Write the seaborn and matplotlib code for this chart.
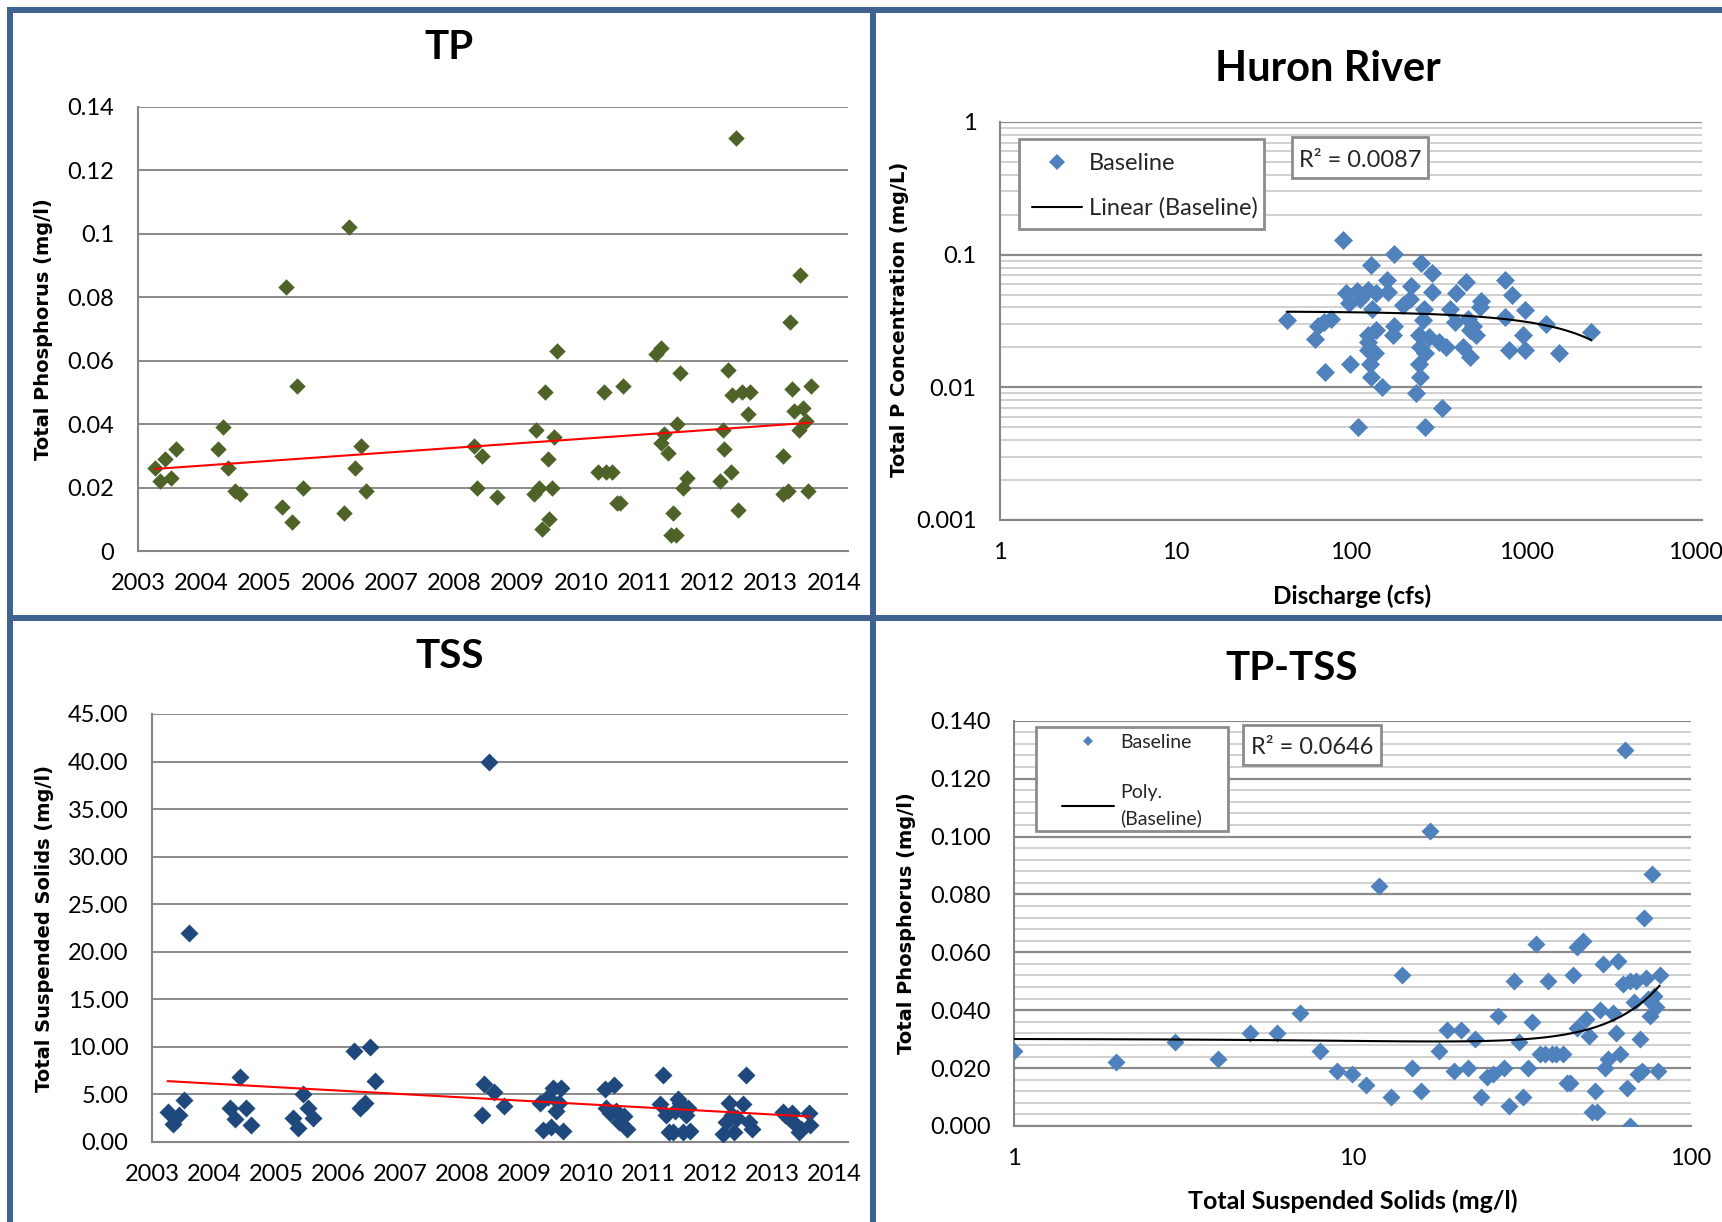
import numpy as np
import pandas as pd
import matplotlib
matplotlib.use("Agg")
import matplotlib.pyplot as plt
import seaborn as sns
from matplotlib.lines import Line2D
from matplotlib.patches import Rectangle
from matplotlib.ticker import FixedLocator, NullLocator, LogLocator, MultipleLocator

# ---------------- data ----------------
# Total phosphorus by sampling date (decimal year)
tp_dates = [2003.27, 2003.34, 2003.43, 2003.52, 2003.60, 2004.26, 2004.35, 2004.43, 2004.53, 2004.61,
            2005.27, 2005.34, 2005.43, 2005.52, 2005.60, 2006.26, 2006.34, 2006.43, 2006.52, 2006.60,
            2008.31, 2008.35, 2008.44, 2008.67, 2009.26, 2009.29, 2009.33, 2009.39, 2009.44, 2009.48,
            2009.50, 2009.55, 2009.58, 2009.63, 2010.27, 2010.36, 2010.40, 2010.49, 2010.57, 2010.62,
            2010.66, 2011.19, 2011.26, 2011.26, 2011.32, 2011.37, 2011.43, 2011.45, 2011.50, 2011.52,
            2011.57, 2011.62, 2011.67, 2012.20, 2012.24, 2012.26, 2012.33, 2012.37, 2012.39, 2012.45,
            2012.49, 2012.55, 2012.64, 2012.68, 2013.20, 2013.20, 2013.27, 2013.31, 2013.34, 2013.37,
            2013.44, 2013.47, 2013.51, 2013.55, 2013.59, 2013.63]
tp_values = [0.026, 0.022, 0.029, 0.023, 0.032, 0.032, 0.039, 0.026, 0.019, 0.018,
             0.014, 0.083, 0.009, 0.052, 0.020, 0.012, 0.102, 0.026, 0.033, 0.019,
             0.033, 0.020, 0.030, 0.017, 0.018, 0.038, 0.020, 0.007, 0.050, 0.029,
             0.010, 0.020, 0.036, 0.063, 0.025, 0.050, 0.025, 0.025, 0.015, 0.015,
             0.052, 0.062, 0.064, 0.034, 0.037, 0.031, 0.005, 0.012, 0.005, 0.040,
             0.056, 0.020, 0.023, 0.022, 0.038, 0.032, 0.057, 0.025, 0.049, 0.130,
             0.013, 0.050, 0.043, 0.050, 0.030, 0.018, 0.019, 0.072, 0.051, 0.044,
             0.038, 0.087, 0.045, 0.041, 0.019, 0.052]

# Total suspended solids by sampling date (decimal year)
tss_dates = [2003.25, 2003.34, 2003.43, 2003.52, 2003.59, 2004.25, 2004.34, 2004.42, 2004.51, 2004.60,
             2005.27, 2005.35, 2005.43, 2005.52, 2005.60, 2006.26, 2006.35, 2006.43, 2006.52, 2006.60,
             2008.32, 2008.35, 2008.43, 2008.51, 2008.67, 2009.26, 2009.31, 2009.39, 2009.44, 2009.47,
             2009.51, 2009.56, 2009.60, 2009.63, 2010.30, 2010.33, 2010.39, 2010.45, 2010.49, 2010.53,
             2010.62, 2010.66, 2011.20, 2011.24, 2011.29, 2011.34, 2011.40, 2011.44, 2011.48, 2011.52,
             2011.56, 2011.61, 2011.65, 2011.67, 2012.21, 2012.26, 2012.30, 2012.35, 2012.38, 2012.44,
             2012.54, 2012.58, 2012.63, 2012.67, 2013.17, 2013.21, 2013.27, 2013.32, 2013.36, 2013.43,
             2013.47, 2013.59, 2013.62]
tss_values = [3.2, 1.9, 2.8, 4.4, 22.0, 3.6, 2.4, 6.8, 3.6, 1.8,
              2.5, 1.5, 5.0, 3.6, 2.5, 9.6, 3.6, 4.1, 10.0, 6.4,
              2.8, 6.1, 40.0, 5.3, 3.8, 4.1, 1.3, 4.7, 1.6, 5.7,
              3.3, 4.1, 5.7, 1.2, 5.6, 3.6, 3.1, 6.0, 3.3, 2.1,
              2.7, 1.4, 4.0, 7.0, 2.8, 1.0, 1.0, 3.3, 4.5, 4.1,
              1.1, 2.8, 3.6, 1.2, 0.8, 2.1, 4.1, 2.8, 1.0, 2.5,
              4.0, 7.0, 2.1, 1.4, 3.2, 2.8, 2.5, 3.0, 2.0, 1.0,
              1.4, 3.0, 1.8]

# Huron River: discharge (cfs) vs total P (mg/L)
discharge_cfs = [90, 175, 130, 252, 291, 161, 454, 759, 94, 108,
                 125, 139, 163, 221, 291, 395, 826, 98, 197, 216,
                 131, 552, 540, 260, 365, 975, 43, 77, 70, 65,
                 750, 1294, 2333, 464, 390, 175, 258, 139, 125, 174,
                 244, 518, 474, 953, 62, 125, 279, 318, 247, 350,
                 435, 137, 263, 794, 975, 474, 1541, 99, 128, 244,
                 71, 130, 247, 151, 236, 330, 109, 264, 125, 112, 496]
huron_tp = [0.129, 0.102, 0.083, 0.087, 0.073, 0.064, 0.062, 0.064, 0.051, 0.053,
            0.054, 0.051, 0.052, 0.058, 0.052, 0.051, 0.050, 0.043, 0.042, 0.046,
            0.039, 0.045, 0.040, 0.039, 0.039, 0.038, 0.032, 0.033, 0.031, 0.029,
            0.034, 0.030, 0.026, 0.033, 0.031, 0.029, 0.032, 0.027, 0.025, 0.025,
            0.025, 0.025, 0.027, 0.025, 0.023, 0.022, 0.024, 0.022, 0.020, 0.020,
            0.020, 0.018, 0.018, 0.019, 0.019, 0.017, 0.018, 0.015, 0.015, 0.015,
            0.013, 0.012, 0.012, 0.010, 0.009, 0.007, 0.005, 0.005, 0.019, 0.046, 0.029]

# TP against TSS (mg/l)
tpt_tss = [1, 2, 3, 4, 5, 6, 7, 8, 9, 10,
           11, 12, 13, 14, 15, 16, 17, 18, 19, 20,
           21, 22, 23, 24, 25, 26, 27, 28, 29, 30,
           31, 32, 33, 34, 35, 36, 37, 38, 39, 40,
           42, 43, 44, 45, 46, 46, 48, 49, 50, 51,
           52, 53, 54, 55, 56, 57, 59, 60, 61, 62,
           63, 64, 65, 66, 66, 68, 69, 70, 71, 72,
           73, 74, 75, 76, 77, 78, 79, 80, 81]
tpt_tp = [0.026, 0.022, 0.029, 0.023, 0.032, 0.032, 0.039, 0.026, 0.019, 0.018,
          0.014, 0.083, 0.010, 0.052, 0.020, 0.012, 0.102, 0.026, 0.033, 0.019,
          0.033, 0.020, 0.030, 0.010, 0.017, 0.018, 0.038, 0.020, 0.007, 0.050,
          0.029, 0.010, 0.020, 0.036, 0.063, 0.025, 0.025, 0.050, 0.025, 0.025,
          0.025, 0.015, 0.015, 0.052, 0.062, 0.034, 0.064, 0.037, 0.031, 0.005,
          0.012, 0.005, 0.040, 0.056, 0.020, 0.023, 0.039, 0.032, 0.057, 0.025,
          0.049, 0.130, 0.013, 0.000, 0.050, 0.043, 0.050, 0.018, 0.030, 0.019,
          0.072, 0.051, 0.044, 0.038, 0.087, 0.045, 0.041, 0.019, 0.052]

year_ticks = list(range(2003, 2015))
tp_ticks = [0, 0.02, 0.04, 0.06, 0.08, 0.10, 0.12, 0.14]
tp_ticklabels = ["0", "0.02", "0.04", "0.06", "0.08", "0.1", "0.12", "0.14"]
tss_ticks = [0, 5, 10, 15, 20, 25, 30, 35, 40, 45]
huron_xticks = [1, 10, 100, 1000, 10000]
huron_yticks = [0.001, 0.01, 0.1, 1]
tpt_xticks = [1, 10, 100]

# ---------------- style ----------------
sns.set_theme(style="white")
plt.rcParams["font.family"] = ["Lato", "DejaVu Sans"]

W, H = 1722, 1222
fig = plt.figure(figsize=(W / 100, H / 100), dpi=100)
fig.patch.set_facecolor("white")

GREEN = "#4F6228"
NAVY = "#1F497D"
BLUE = "#4F81BD"
AXIS_GRAY = "#868686"
GRID_MAJOR = "#8a8a8a"
GRID_MINOR = "#c8c8c8"
BOX_EDGE = "#8c8c8c"
FRAME = "#3E6391"
TICK_FS = 17


def px_axes(x0, y0, x1, y1):
    return fig.add_axes([x0 / W, 1 - y1 / H, (x1 - x0) / W, (y1 - y0) / H])


def ftext(x, y, s, **kw):
    return fig.text(x / W, 1 - y / H, s, **kw)


def fpoint(x, y):
    return (x / W, 1 - y / H)


def base_style(ax):
    ax.set_facecolor("white")
    for side in ("top", "right"):
        ax.spines[side].set_visible(False)
    for side in ("left", "bottom"):
        ax.spines[side].set_color(AXIS_GRAY)
        ax.spines[side].set_linewidth(1.5)
    ax.set_axisbelow(True)
    ax.tick_params(axis="both", which="major", direction="out", length=6,
                   width=1.2, color=AXIS_GRAY, labelsize=TICK_FS, labelcolor="black")
    ax.tick_params(axis="x", which="major", pad=10)
    ax.tick_params(axis="y", which="major", pad=11)
    ax.tick_params(which="minor", length=0)
    ax.set_xlabel("")
    ax.set_ylabel("")


def framed_box(ax, x0, y0, x1, y1, z=4.5):
    # opaque framed box (pixel coordinates, top-left origin)
    ax.add_patch(Rectangle(fpoint(x0, y1), (x1 - x0) / W, (y1 - y0) / H,
                           transform=fig.transFigure, fc="white", ec=BOX_EDGE,
                           lw=2, zorder=z, clip_on=False))


# ---------------- TP over time ----------------
ax1 = px_axes(138, 106.5, 848, 551)
tp_df = pd.DataFrame({"date": tp_dates, "tp": tp_values})
sns.scatterplot(data=tp_df, x="date", y="tp", marker="D", s=70, color=GREEN,
                linewidth=0, ax=ax1, zorder=3)
sns.regplot(data=tp_df, x="date", y="tp", scatter=False, ci=None, truncate=True,
            line_kws={"color": "red", "lw": 1.5, "zorder": 4}, ax=ax1)
base_style(ax1)
ax1.set_xlim(2003, 2003 + (848 - 138) / (834 - 138) * 11)
ax1.set_ylim(0, 0.14)
ax1.xaxis.set_major_locator(FixedLocator(year_ticks))
ax1.set_xticklabels([str(y) for y in year_ticks])
ax1.yaxis.set_major_locator(FixedLocator(tp_ticks))
ax1.set_yticklabels(tp_ticklabels)
ax1.yaxis.grid(True, color=GRID_MAJOR, lw=1.4)
ax1.xaxis.grid(False)

# ---------------- TSS over time ----------------
ax3 = px_axes(152, 714, 848, 1142)
tss_df = pd.DataFrame({"date": tss_dates, "tss": tss_values})
sns.scatterplot(data=tss_df, x="date", y="tss", marker="D", s=84, color=NAVY,
                linewidth=0, ax=ax3, zorder=3)
sns.regplot(data=tss_df, x="date", y="tss", scatter=False, ci=None, truncate=True,
            line_kws={"color": "red", "lw": 1.5, "zorder": 4}, ax=ax3)
base_style(ax3)
ax3.set_xlim(2003, 2003 + (848 - 152) / (834 - 152) * 11)
ax3.set_ylim(0, 45)
ax3.xaxis.set_major_locator(FixedLocator(year_ticks))
ax3.set_xticklabels([str(y) for y in year_ticks])
ax3.yaxis.set_major_locator(FixedLocator(tss_ticks))
ax3.set_yticklabels([f"{v:.2f}" for v in tss_ticks])
ax3.yaxis.grid(True, color=GRID_MAJOR, lw=1.4)
ax3.xaxis.grid(False)

# ---------------- Huron River: TP vs discharge ----------------
ax2 = px_axes(1000, 122, 1702, 520)
ax2.set_xscale("log")
ax2.set_yscale("log")
hr_df = pd.DataFrame({"q": discharge_cfs, "tp": huron_tp})
sns.scatterplot(data=hr_df, x="q", y="tp", marker="D", s=94, color=BLUE,
                linewidth=0, ax=ax2, zorder=3)
sns.regplot(data=hr_df, x="q", y="tp", scatter=False, ci=None, truncate=True,
            line_kws={"color": "black", "lw": 1.5, "zorder": 4}, ax=ax2)
base_style(ax2)
ax2.set_xlim(1, 10000)
ax2.set_ylim(0.001, 1)
ax2.xaxis.set_major_locator(FixedLocator(huron_xticks))
ax2.xaxis.set_minor_locator(NullLocator())
ax2.set_xticklabels([str(v) for v in huron_xticks])
ax2.yaxis.set_major_locator(FixedLocator(huron_yticks))
ax2.yaxis.set_minor_locator(LogLocator(base=10, subs=np.arange(2, 10)))
ax2.set_yticklabels(["0.001", "0.01", "0.1", "1"])
ax2.yaxis.grid(True, which="major", color=GRID_MAJOR, lw=1.6)
ax2.yaxis.grid(True, which="minor", color=GRID_MINOR, lw=1.2)
ax2.xaxis.grid(False, which="both")

framed_box(ax2, 1019, 139, 1264, 229)
hr_handles = [Line2D([], [], marker="D", ls="none", color=BLUE, markersize=8, markeredgewidth=0),
              Line2D([], [], color="black", lw=1.5)]
leg2 = ax2.legend(hr_handles, ["Baseline", "Linear (Baseline)"], loc="upper left",
                  bbox_to_anchor=fpoint(1032, 152.8), bbox_transform=fig.transFigure,
                  frameon=False, fontsize=17, handlelength=2.12, handletextpad=0.3,
                  borderpad=0, labelspacing=1.0, borderaxespad=0)
leg2.set_zorder(5)
framed_box(ax2, 1292, 137, 1428, 178, z=5.5)
ax2.text(*fpoint(1360, 160.5), "R² = 0.0087", transform=fig.transFigure,
         ha="center", va="center", fontsize=17, zorder=6)

# ---------------- TP vs TSS ----------------
ax4 = px_axes(1014, 720.7, 1690.6, 1126)
ax4.set_xscale("log")
tpt_df = pd.DataFrame({"tss": tpt_tss, "tp": tpt_tp})
sns.scatterplot(data=tpt_df, x="tss", y="tp", marker="D", s=84, color=BLUE,
                linewidth=0, ax=ax4, zorder=3)
sns.regplot(data=tpt_df, x="tss", y="tp", scatter=False, ci=None, truncate=True, order=3,
            line_kws={"color": "black", "lw": 1.5, "zorder": 4}, ax=ax4)
base_style(ax4)
ax4.set_xlim(1, 100)
ax4.set_ylim(0, 0.14)
ax4.xaxis.set_major_locator(FixedLocator(tpt_xticks))
ax4.xaxis.set_minor_locator(NullLocator())
ax4.set_xticklabels([str(v) for v in tpt_xticks])
ax4.yaxis.set_major_locator(MultipleLocator(0.02))
ax4.yaxis.set_minor_locator(MultipleLocator(0.004))
ax4.set_yticklabels([f"{v:.3f}" for v in ax4.get_yticks()])
ax4.set_ylim(0, 0.14)
ax4.yaxis.grid(True, which="major", color=GRID_MAJOR, lw=1.6)
ax4.yaxis.grid(True, which="minor", color=GRID_MINOR, lw=1.2)
ax4.xaxis.grid(False, which="both")

framed_box(ax4, 1036, 727, 1228, 831)
tpt_handles = [Line2D([], [], marker="D", ls="none", color=BLUE, markersize=5, markeredgewidth=0),
               Line2D([], [], color="black", lw=1.5)]
leg4 = ax4.legend(tpt_handles, ["Baseline", "Poly.\n(Baseline)"], loc="upper left",
                  bbox_to_anchor=fpoint(1062, 734), bbox_transform=fig.transFigure,
                  frameon=False, fontsize=14, handlelength=2.68, handletextpad=0.3,
                  borderpad=0, labelspacing=1.7, borderaxespad=0)
leg4.set_zorder(5)
for t in leg4.get_texts():
    t.set_linespacing(1.55)
framed_box(ax4, 1243, 725, 1381, 765, z=5.5)
ax4.text(*fpoint(1312, 747.5), "R² = 0.0646", transform=fig.transFigure,
         ha="center", va="center", fontsize=17, zorder=6)

# ---------------- titles and axis labels ----------------
title_kw = dict(ha="center", va="baseline", fontweight="bold", color="black")
ftext(448.6, 59, "TP", fontsize=29, **title_kw)
ftext(449.5, 668, "TSS", fontsize=29, **title_kw)
ftext(1328, 81, "Huron River", fontsize=30, **title_kw)
ftext(1292, 680, "TP-TSS", fontsize=29, **title_kw)

ylab_kw = dict(ha="center", va="center", rotation=90, fontsize=14, fontweight="bold",
               family=["DejaVu Sans"], color="black")
ftext(44, 329, "Total Phosphorus (mg/l)", **ylab_kw)
ftext(44.6, 929, "Total Suspended Solids (mg/l)", **ylab_kw)
ftext(899.5, 319, "Total P Concentration (mg/L)", **ylab_kw)
ftext(906, 923, "Total Phosphorus (mg/l)", **ylab_kw)

xlab_kw = dict(ha="center", va="center", fontweight="bold", color="black")
ftext(1351.6, 596, "Discharge (cfs)", fontsize=17.5, **xlab_kw)
ftext(1352.5, 1201, "Total Suspended Solids (mg/l)", fontsize=18, **xlab_kw)

# ---------------- panel frame ----------------
frame_kw = dict(transform=fig.transFigure, color=FRAME, lw=6 * 0.72, solid_capstyle="butt")
for (xa, ya, xb, yb) in [(9.5, 7, 9.5, H), (7, 9.7, W, 9.7), (873, 7, 873, H), (7, 618, W, 618)]:
    fig.add_artist(Line2D([xa / W, xb / W], [1 - ya / H, 1 - yb / H], **frame_kw))

fig.savefig("out.png", dpi=100, facecolor="white")
